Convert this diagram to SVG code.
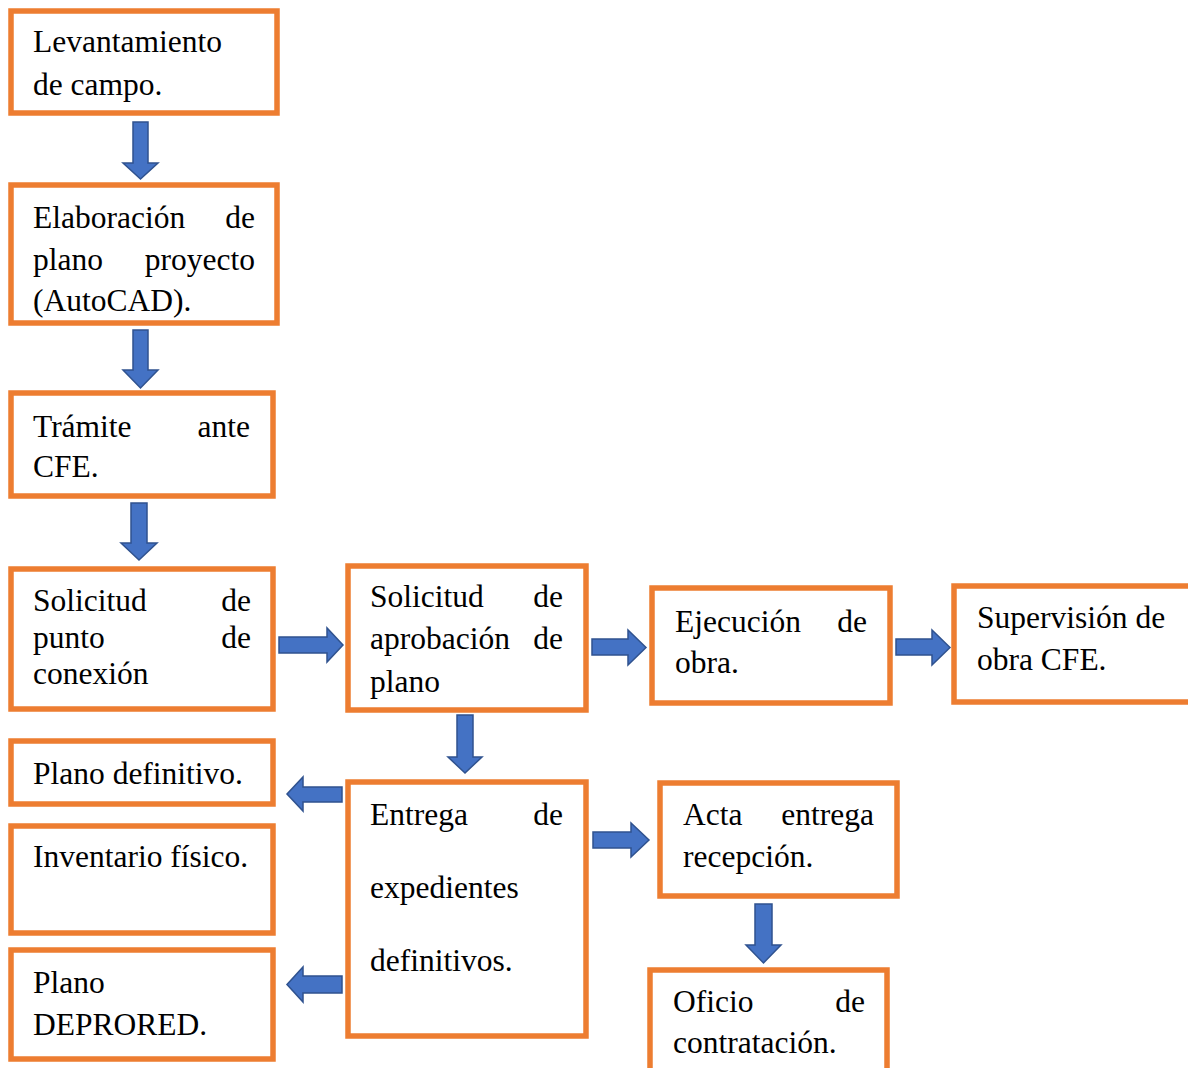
<svg xmlns="http://www.w3.org/2000/svg" width="1188" height="1068" viewBox="0 0 1188 1068">
<style>
.box{fill:#ffffff;stroke:#ED7D31;stroke-width:5.5}
.arr{fill:#4472C4;stroke:#2F528F;stroke-width:1.5;stroke-linejoin:miter}
text{font-family:"Liberation Serif","Times New Roman",serif;font-size:31.5px;fill:#000000}
.e{text-anchor:end}
</style>
<rect width="1188" height="1068" fill="#ffffff"/>
<g id="connectors">
<polygon class="arr" points="133,122 148,122 148,163 158,163 140.5,179 123,163 133,163"/>
<polygon class="arr" points="133,330 148,330 148,370 158,370 140.5,388 123,370 133,370"/>
<polygon class="arr" points="131,503 147,503 147,543 157,543 139,560 121,543 131,543"/>
<polygon class="arr" points="457,715 473,715 473,757 482,757 465,773 448,757 457,757"/>
<polygon class="arr" points="755,904 772,904 772,945 781,945 763.5,963 746,945 755,945"/>
<polygon class="arr" points="279,637 327,637 327,628 343,645 327,662 327,653 279,653"/>
<polygon class="arr" points="592,639 628,639 628,630 646,647.5 628,665 628,655 592,655"/>
<polygon class="arr" points="896,639 932,639 932,630 950,647.5 932,665 932,655 896,655"/>
<polygon class="arr" points="593,832 631,832 631,823 649,840 631,857 631,848 593,848"/>
<polygon class="arr" points="342,787 303,787 303,777 287,794 303,811 303,802 342,802"/>
<polygon class="arr" points="342,976 303,976 303,967 287,984.5 303,1002 303,993 342,993"/>
</g>
<g id="n1"><rect class="box" x="11" y="11" width="266" height="102"/>
<text x="33" y="52">Levantamiento</text><text x="33" y="95">de campo.</text></g>
<g id="n2"><rect class="box" x="11" y="185" width="266" height="138"/>
<text x="33" y="228">Elaboración</text><text class="e" x="255" y="228">de</text>
<text x="33" y="270">plano</text><text class="e" x="255" y="270">proyecto</text>
<text x="33" y="311">(AutoCAD).</text></g>
<g id="n3"><rect class="box" x="11" y="393" width="262" height="103"/>
<text x="33" y="437">Trámite</text><text class="e" x="250" y="437">ante</text>
<text x="33" y="477">CFE.</text></g>
<g id="n4"><rect class="box" x="11" y="569" width="262" height="140"/>
<text x="33" y="611">Solicitud</text><text class="e" x="251" y="611">de</text>
<text x="33" y="648">punto</text><text class="e" x="251" y="648">de</text>
<text x="33" y="684">conexión</text></g>
<g id="n5"><rect class="box" x="348" y="566" width="238" height="144"/>
<text x="370" y="607">Solicitud</text><text class="e" x="563" y="607">de</text>
<text x="370" y="649">aprobación</text><text class="e" x="563" y="649">de</text>
<text x="370" y="692">plano</text></g>
<g id="n6"><rect class="box" x="652" y="588" width="238" height="115"/>
<text x="675" y="632">Ejecución</text><text class="e" x="867" y="632">de</text>
<text x="675" y="673">obra.</text></g>
<g id="n7"><rect class="box" x="954" y="586" width="250" height="116"/>
<text x="977" y="628">Supervisión de</text>
<text x="977" y="670">obra CFE.</text></g>
<g id="n8"><rect class="box" x="11" y="741" width="262" height="63"/>
<text x="33" y="784">Plano definitivo.</text></g>
<g id="n9"><rect class="box" x="11" y="826" width="262" height="107"/>
<text x="33" y="867">Inventario físico.</text></g>
<g id="n10"><rect class="box" x="11" y="950" width="262" height="109"/>
<text x="33" y="993">Plano</text><text x="33" y="1035">DEPRORED.</text></g>
<g id="n11"><rect class="box" x="348" y="782" width="238" height="254"/>
<text x="370" y="825">Entrega</text><text class="e" x="563" y="825">de</text>
<text x="370" y="898">expedientes</text>
<text x="370" y="971">definitivos.</text></g>
<g id="n12"><rect class="box" x="660" y="783" width="237" height="113"/>
<text x="683" y="825">Acta</text><text class="e" x="874" y="825">entrega</text>
<text x="683" y="867">recepción.</text></g>
<g id="n13"><rect class="box" x="650" y="970" width="237" height="110"/>
<text x="673" y="1012">Oficio</text><text class="e" x="865" y="1012">de</text>
<text x="673" y="1053">contratación.</text></g>
</svg>
